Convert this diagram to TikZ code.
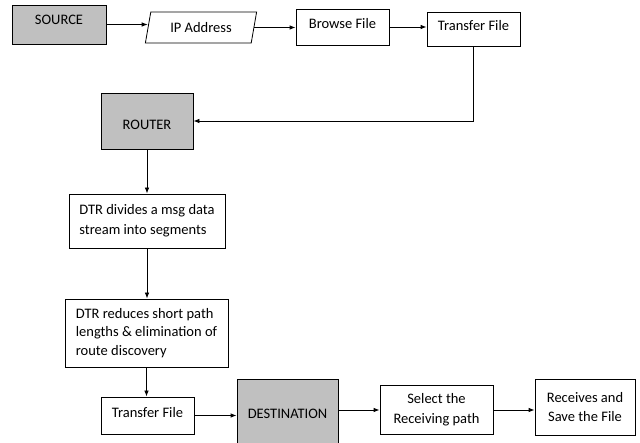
\documentclass[tikz,border=0pt]{standalone}
\usepackage{fontspec}
\setmainfont{Carlito}
\usetikzlibrary{shapes.geometric,arrows.meta}
\definecolor{boxgrey}{RGB}{192,192,192}
\begin{document}
\begin{tikzpicture}[x=1pt,y=-1pt,
  every node/.style={font=\fontsize{14.5}{20}\selectfont, inner sep=2pt},
  plainbox/.style={draw, line width=0.8pt, fill=white, align=center},
  greybox/.style={draw, line width=0.8pt, fill=boxgrey, align=center},
  up/.style={text height=10pt, text depth={3.5pt+2*#1}},
  down/.style={text height={10pt+2*#1}, text depth=3.5pt},
  conn/.style={line width=0.8pt, -{Latex[length=6pt,width=4.5pt]}}]
\useasboundingbox (0,0) rectangle (640,443);
\fill[white] (0,0) rectangle (640,443);
\node[greybox, up=3.5pt, minimum width=94pt, minimum height=39pt] (source) at (59,24.5) {SOURCE};
\node[draw, line width=0.8pt, trapezium, trapezium left angle=72, trapezium right angle=108,
  trapezium stretches=true, minimum width=112pt, minimum height=31pt, inner sep=0pt] (ip) at (201,27.5) {IP Address};
\node[plainbox, up=1.5pt, minimum width=93pt, minimum height=36pt] (browse) at (342.5,27) {Browse File};
\node[plainbox, up=1.5pt, minimum width=93pt, minimum height=34pt] (transfer1) at (473.5,29) {Transfer File};
\node[greybox, down=5pt, minimum width=92pt, minimum height=56pt] (router) at (147,121) {ROUTER};
\node[plainbox, align=left, minimum width=156pt, minimum height=54pt] (dtr1) at (147,221) {DTR divides a msg data\\stream into segments};
\node[plainbox, align=left, minimum width=163pt, minimum height=68pt,
  font=\fontsize{14.5}{18.5}\selectfont] (dtr2) at (146.5,333) {DTR reduces short path\\lengths \& elimination of\\route discovery};
\node[plainbox, up=1.5pt, minimum width=93pt, minimum height=37pt] (transfer2) at (147.5,415.5) {Transfer File};
\node[greybox, minimum width=101pt, minimum height=70pt] (dest) at (287.5,414) {DESTINATION};
\node[plainbox, minimum width=113pt, minimum height=49pt] (select) at (436.5,410) {Select the\\Receiving path};
\node[plainbox, minimum width=100pt, minimum height=56pt,
  font=\fontsize{14.5}{19}\selectfont] (receives) at (585,407) {Receives and\\Save the File};
\draw[conn] (source.east) -- (source.east -| ip.west);
\draw[conn] (ip.east) -- (ip.east -| browse.west);
\draw[conn] (browse.east) -- (browse.east -| transfer1.west);
\draw[conn] (transfer1.south) |- (router.east);
\draw[conn] (router.south) -- (dtr1.north);
\draw[conn] (dtr1.south) -- (dtr1.south |- dtr2.north);
\draw[conn] (dtr2.south) -- (dtr2.south |- transfer2.north);
\draw[conn] (transfer2.east) -- (transfer2.east -| dest.west);
\draw[conn] (select.west -| dest.east) -- (select.west);
\draw[conn] (select.east) -- (select.east -| receives.west);
\end{tikzpicture}
\end{document}
